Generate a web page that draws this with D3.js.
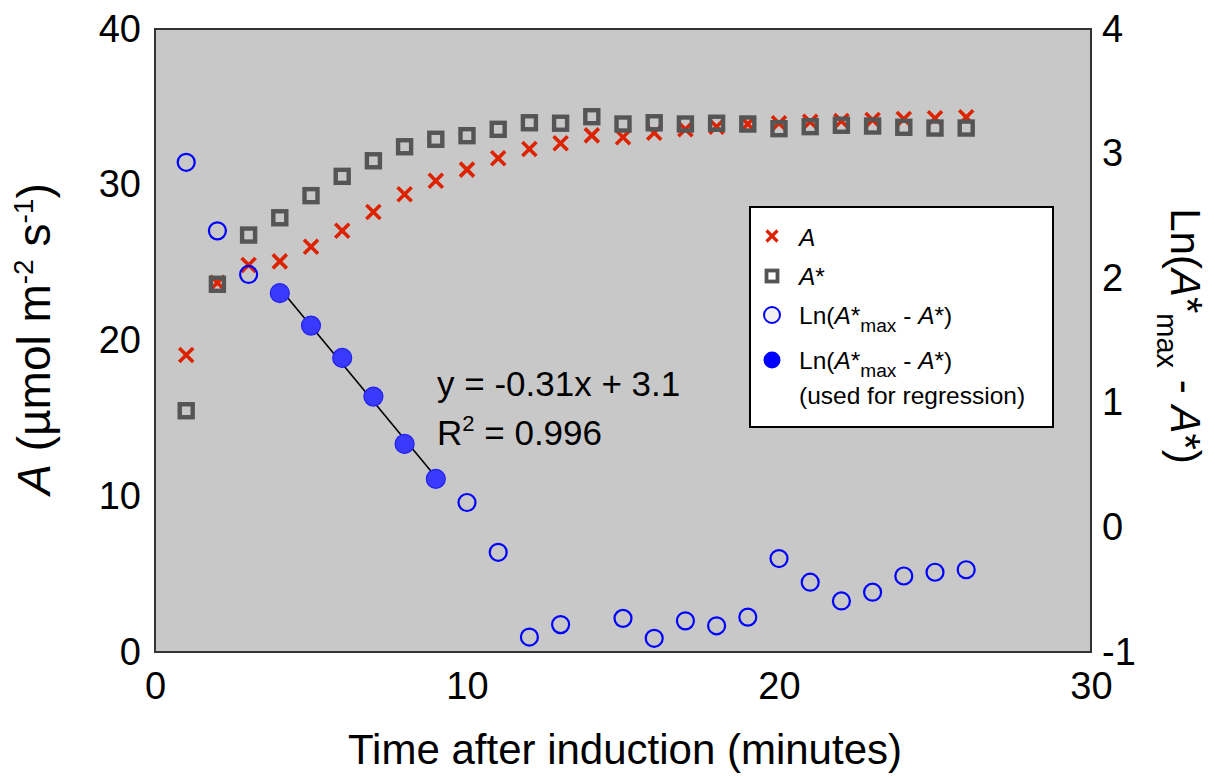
<!DOCTYPE html>
<html><head><meta charset="utf-8">
<script src="https://cdn.jsdelivr.net/npm/d3@7"></script>
<style>
body{margin:0;background:#fff}
text{font-family:"Liberation Sans",Arial,Helvetica,sans-serif;fill:#000}
</style>
</head><body>
<svg id="chart" width="1215" height="776"></svg>
<script>
// ---- data ----
const minutes = [1,2,3,4,5,6,7,8,9,10,11,12,13,14,15,16,17,18,19,20,21,22,23,24,25,26];
const aValues = [19.07,23.71,24.85,25.08,26.02,27.05,28.25,29.39,30.26,30.97,31.70,32.30,32.66,33.17,33.05,33.34,33.56,33.73,33.90,33.95,34.05,34.09,34.16,34.22,34.27,34.33];
const aStarValues = [15.49,23.61,26.77,27.88,29.30,30.54,31.54,32.44,32.92,33.15,33.56,33.98,33.95,34.37,33.90,33.98,33.90,33.95,33.90,33.60,33.73,33.82,33.77,33.69,33.64,33.64];
const lnMinutes = [1,2,3,10,11,12,13,15,16,17,18,19,20,21,22,23,24,25,26];
const lnValues = [2.93,2.38,2.03,0.20,-0.20,-0.88,-0.78,-0.73,-0.89,-0.75,-0.79,-0.72,-0.25,-0.44,-0.59,-0.52,-0.39,-0.36,-0.34];
const regMinutes = [4,5,6,7,8,9];
const regValues = [1.88,1.62,1.36,1.05,0.67,0.39];
const xTicks = [0,10,20,30];
const leftTicks = [0,10,20,30,40];
const rightTicks = [-1,0,1,2,3,4];
const equationText = "y = -0.31x + 3.1";
const r2Text = "0.996";

// ---- layout ----
const svg = d3.select("#chart");
const L = 155, R = 1091, T = 29, B = 652;
const x = d3.scaleLinear().domain([0,30]).range([L,R]);
const yL = d3.scaleLinear().domain([0,40]).range([B,T]);
const yR = d3.scaleLinear().domain([-1,4]).range([B,T]);

svg.append("rect").attr("x",L).attr("y",T).attr("width",R-L).attr("height",B-T)
  .attr("fill","#c8c8c8").attr("stroke","#333").attr("stroke-width",2);

// axes
const tickFont = 38;
const gx = svg.append("g").attr("transform",`translate(0,${B})`)
  .call(d3.axisBottom(x).tickValues(xTicks).tickSize(0).tickPadding(20).tickFormat(d3.format("d")));
const gl = svg.append("g").attr("transform",`translate(${L},0)`)
  .call(d3.axisLeft(yL).tickValues(leftTicks).tickSize(0).tickPadding(14).tickFormat(d3.format("d")));
const gr = svg.append("g").attr("transform",`translate(${R},0)`)
  .call(d3.axisRight(yR).tickValues(rightTicks).tickSize(0).tickPadding(11).tickFormat(d=>d<0?"-"+Math.abs(d):String(d)));
[gx,gl,gr].forEach(g=>{
  g.select(".domain").remove();
  g.selectAll("text").attr("font-size",tickFont).attr("font-family","Liberation Sans, Arial, sans-serif").attr("fill","#000");
});

// regression from the filled points
const mx = d3.mean(regMinutes), my = d3.mean(regValues);
let sxy=0, sxx=0;
regMinutes.forEach((t,i)=>{sxy+=(t-mx)*(regValues[i]-my); sxx+=(t-mx)*(t-mx);});
const slope = sxy/sxx, icpt = my - slope*mx;
const x0 = d3.min(regMinutes), x1 = d3.max(regMinutes);
svg.append("line").attr("x1",x(x0)).attr("y1",yR(icpt+slope*x0))
  .attr("x2",x(x1)).attr("y2",yR(icpt+slope*x1)).attr("stroke","#000").attr("stroke-width",1.6);

// A: red crosses
const cs = 7;
const crossPath = `M${-cs},${-cs}L${cs},${cs}M${-cs},${cs}L${cs},${-cs}`;
svg.append("g").selectAll("path").data(minutes).join("path")
  .attr("transform",(d,i)=>`translate(${x(d)},${yL(aValues[i])})`)
  .attr("d",crossPath).attr("stroke","#dd2200").attr("stroke-width",3.6).attr("fill","none");

// A*: gray squares
const sq = 13;
svg.append("g").selectAll("rect").data(minutes).join("rect")
  .attr("x",d=>x(d)-sq/2).attr("y",(d,i)=>yL(aStarValues[i])-sq/2)
  .attr("width",sq).attr("height",sq).attr("fill","none").attr("stroke","#555").attr("stroke-width",4.4);

// Ln open circles
svg.append("g").selectAll("circle").data(lnMinutes).join("circle")
  .attr("cx",d=>x(d)).attr("cy",(d,i)=>yR(lnValues[i])).attr("r",8.5)
  .attr("fill","none").attr("stroke","#0000ff").attr("stroke-width",2.2);

// Ln filled circles
svg.append("g").selectAll("circle").data(regMinutes).join("circle")
  .attr("cx",d=>x(d)).attr("cy",(d,i)=>yR(regValues[i])).attr("r",9.5)
  .attr("fill","#3a3aff").attr("stroke","#2020f0").attr("stroke-width",1.2);

// equation
const ef = 35;
svg.append("text").attr("x",437).attr("y",396).attr("font-size",ef).text(equationText);
const r2 = svg.append("text").attr("x",437).attr("y",445).attr("font-size",ef);
r2.append("tspan").text("R");
r2.append("tspan").attr("font-size",22).attr("dy",-14).text("2");
r2.append("tspan").attr("dy",14).text(" = " + r2Text);

// legend
const lg = svg.append("g");
lg.append("rect").attr("x",750).attr("y",207).attr("width",303).attr("height",220)
  .attr("fill","#fff").attr("stroke","#000").attr("stroke-width",2);
const mxL = 772, tx = 799, lf = 24.5;
lg.append("path").attr("transform",`translate(${mxL},236)`).attr("d",`M-5.5,-5.5L5.5,5.5M-5.5,5.5L5.5,-5.5`)
  .attr("stroke","#dd2200").attr("stroke-width",3.2).attr("fill","none");
lg.append("rect").attr("x",mxL-5.5).attr("y",276-5.5).attr("width",11).attr("height",11)
  .attr("fill","none").attr("stroke","#555").attr("stroke-width",3.8);
lg.append("circle").attr("cx",mxL).attr("cy",315).attr("r",8).attr("fill","#f0f0f0").attr("stroke","#0000ff").attr("stroke-width",2);
lg.append("circle").attr("cx",mxL).attr("cy",360).attr("r",8.5).attr("fill","#0000ff");

const t1 = lg.append("text").attr("x",tx).attr("y",246).attr("font-size",lf);
t1.append("tspan").attr("font-style","italic").text("A");
const t2 = lg.append("text").attr("x",tx).attr("y",285).attr("font-size",lf);
t2.append("tspan").attr("font-style","italic").text("A");
t2.append("tspan").text("*");
function lnLabel(sel, fs){
  sel.append("tspan").text("Ln(");
  sel.append("tspan").attr("font-style","italic").text("A");
  sel.append("tspan").text("*");
  sel.append("tspan").attr("font-size",fs*0.78).attr("dy",fs*0.32).text("max");
  sel.append("tspan").attr("dy",-fs*0.32).text(" - ");
  sel.append("tspan").attr("font-style","italic").text("A");
  sel.append("tspan").text("*)");
}
lnLabel(lg.append("text").attr("x",tx).attr("y",324).attr("font-size",lf), lf);
lnLabel(lg.append("text").attr("x",tx).attr("y",369).attr("font-size",lf), lf);
lg.append("text").attr("x",tx).attr("y",404).attr("font-size",lf).text("(used for regression)");

// axis titles
svg.append("text").attr("x",625).attr("y",764).attr("text-anchor","middle")
  .attr("font-size",42).text("Time after induction (minutes)");

const lt = svg.append("text").attr("transform","translate(50,339) rotate(-90)")
  .attr("text-anchor","middle").attr("font-size",46);
lt.append("tspan").attr("font-style","italic").text("A");
lt.append("tspan").text(" (µmol m");
lt.append("tspan").attr("font-size",28).attr("dy",-17).text("-2");
lt.append("tspan").attr("dy",17).text(" s");
lt.append("tspan").attr("font-size",28).attr("dy",-17).text("-1");
lt.append("tspan").attr("dy",17).text(")");

const rt = svg.append("text").attr("transform","translate(1171,336) rotate(90)")
  .attr("text-anchor","middle").attr("font-size",42);
rt.append("tspan").text("Ln(");
rt.append("tspan").attr("font-style","italic").text("A");
rt.append("tspan").attr("dy",-2).text("*");
rt.append("tspan").attr("font-size",29).attr("dy",16).text("max");
rt.append("tspan").attr("dy",-14).text(" - ");
rt.append("tspan").attr("font-style","italic").text("A");
rt.append("tspan").text("*)");
</script>
</body></html>
